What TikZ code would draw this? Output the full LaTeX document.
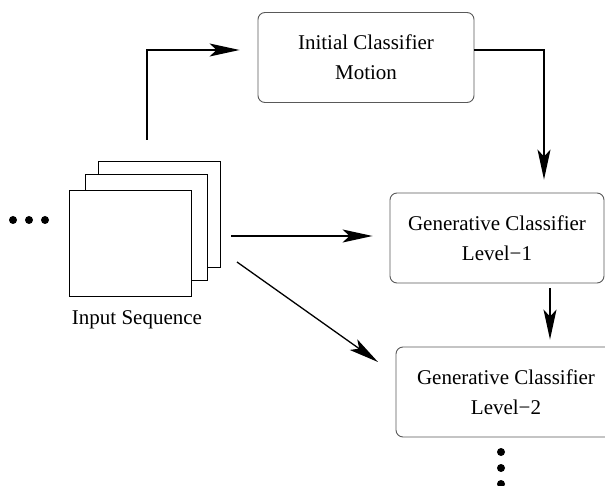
\documentclass[tikz,border=0pt]{standalone}
\usepackage{fontspec}
\setmainfont{Liberation Serif}
\usetikzlibrary{arrows.meta}
\usetikzlibrary{positioning}
\tikzset{>={Stealth[length=30pt,width=13pt,inset=7pt]}}
\tikzset{classbox/.style={draw=black!65,line width=0.9pt,rounded corners=7pt,align=center,
    minimum height=90pt,font=\fontsize{21}{30}\selectfont}}
\tikzset{frame/.style={draw,fill=white,line width=0.9pt,minimum width=122pt,minimum height=106pt}}
\tikzset{flow/.style={->,line width=1.3pt}}

\begin{document}
\begin{tikzpicture}[x=1pt,y=-1pt]
            \useasboundingbox (0,0) rectangle (605,486);

            % input sequence
            \node[frame] (back) at (159,214) {};
            \node[frame] (mid) at (146.5,227) {};
            \node[frame] (front) at (130.5,243) {};
            \node[font=\fontsize{21}{25}\selectfont] (seq) at (137,320) {Input Sequence};

            % dots
            \foreach \x in {13,29,45}
                \fill (\x,220) circle (4);
            \foreach \y in {452,468,484}
                \fill (501,\y) circle (4);

            % classifiers
            \node[classbox,minimum width=216pt] (init) at (366,57.5) {Initial Classifier\\Motion};
            \node[classbox,minimum width=214pt] (gen1) at (497,238) {Generative Classifier\\Level−1};
            \node[classbox,minimum width=220pt] (gen2) at (506,392) {Generative Classifier\\Level−2};

            % arrows
            \coordinate (up) at (147,140);
            \coordinate (right) at (231,236);
            \coordinate (diag) at (237,262);
            \coordinate (diagend) at (378,362);
            \draw[flow,shorten >=18pt] (up) |- ([yshift=7.5pt]init.west);
            \draw[flow] ([yshift=7.5pt]init.east) -| ([xshift=47pt,yshift=13pt]gen1.north);
            \draw[flow,shorten >=17pt] (right) -- (right -| gen1.west);
            \draw[flow] (diag) -- (diagend);
            \draw[flow,shorten <=5pt,shorten >=7pt] ([xshift=53pt]gen1.south) -- ([xshift=53pt]gen1.south |- gen2.north);
        \end{tikzpicture}
\end{document}
